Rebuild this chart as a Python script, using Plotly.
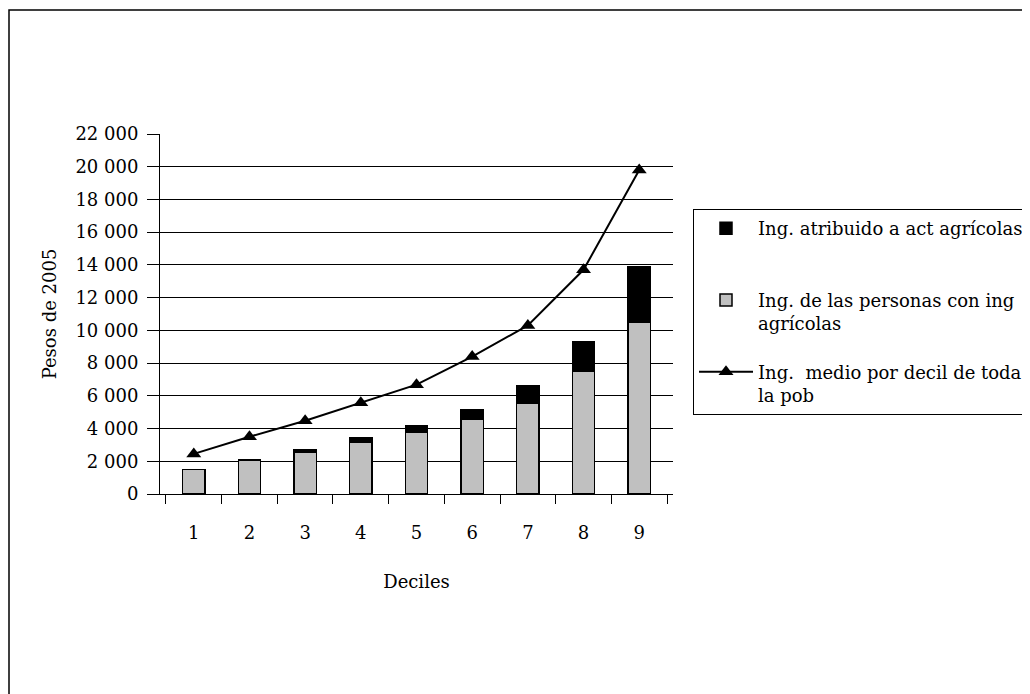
import plotly.graph_objects as go

deciles = ["1", "2", "3", "4", "5", "6", "7", "8", "9"]
ing_personas = [1500, 2080, 2530, 3140, 3770, 4580, 5540, 7500, 10500]
ing_agricolas = [0, 0, 160, 300, 390, 550, 1080, 1800, 3400]
ing_medio = [2450, 3500, 4480, 5580, 6680, 8400, 10300, 13700, 19800]
y_ticks = list(range(0, 22001, 2000))

FONT = "DejaVu Serif"
FS = 18
W, H = 1030, 694
L, R, T, B = 152, 365, 126, 208
pw, ph = W - L - R, H - T - B

fig = go.Figure()
fig.add_trace(go.Bar(
    x=deciles, y=ing_personas, name="Ing. de las personas con ing<br>agrícolas",
    marker=dict(color="#C0C0C0", line=dict(color="black", width=1.5)),
    width=0.4, legendrank=2, legendgroup="b",
))
fig.add_trace(go.Bar(
    x=deciles, y=ing_agricolas, name="Ing. atribuido a act agrícolas<br> ",
    marker=dict(color="black", line=dict(color="black", width=1.5)),
    width=0.4, legendrank=1, legendgroup="a",
))
fig.add_trace(go.Scatter(
    x=deciles, y=ing_medio, name="Ing.  medio por decil de toda<br>la pob",
    mode="lines+markers",
    line=dict(color="black", width=2),
    marker=dict(symbol="triangle-up", size=13, color="black"),
    legendrank=3, legendgroup="c",
))

def px_x(p):
    return (p - L) / pw

def px_y(p):
    return (H - B - p) / ph

fig.update_layout(
    width=W, height=H,
    margin=dict(l=L, r=R, t=T, b=B, autoexpand=False),
    barmode="stack",
    plot_bgcolor="white", paper_bgcolor="white",
    separators=". ",
    font=dict(family=FONT, size=FS, color="black"),
    showlegend=True,
    legend=dict(
        x=px_x(685), y=px_y(201), xanchor="left", yanchor="top",
        bordercolor="black", borderwidth=1, bgcolor="white",
        font=dict(family=FONT, size=FS),
        traceorder="grouped", tracegroupgap=22, itemwidth=54,
        valign="top",
    ),
    xaxis=dict(
        type="category", showline=True, linecolor="black", linewidth=1,
        ticks="outside", tickson="boundaries", ticklen=9, tickcolor="black",
        ticklabelstandoff=22,
        title=dict(text="Deciles", font=dict(family=FONT, size=FS), standoff=33),
        showgrid=False,
    ),
    yaxis=dict(
        range=[0, 22000], tickvals=y_ticks, tickformat=",d",
        showline=True, linecolor="black", linewidth=1,
        ticks="outside", ticklen=12, tickcolor="black",
        ticklabelstandoff=5,
        showgrid=True, gridcolor="black", gridwidth=1,
        zeroline=False,
        title=dict(text="Pesos de 2005", font=dict(family=FONT, size=FS), standoff=14),
    ),
    shapes=[dict(
        type="rect", xref="paper", yref="paper",
        x0=px_x(1), x1=px_x(1045), y0=px_y(705), y1=px_y(2),
        line=dict(color="black", width=1.5), fillcolor="rgba(0,0,0,0)",
        layer="below",
    )],
)

fig.write_html("out.html")
